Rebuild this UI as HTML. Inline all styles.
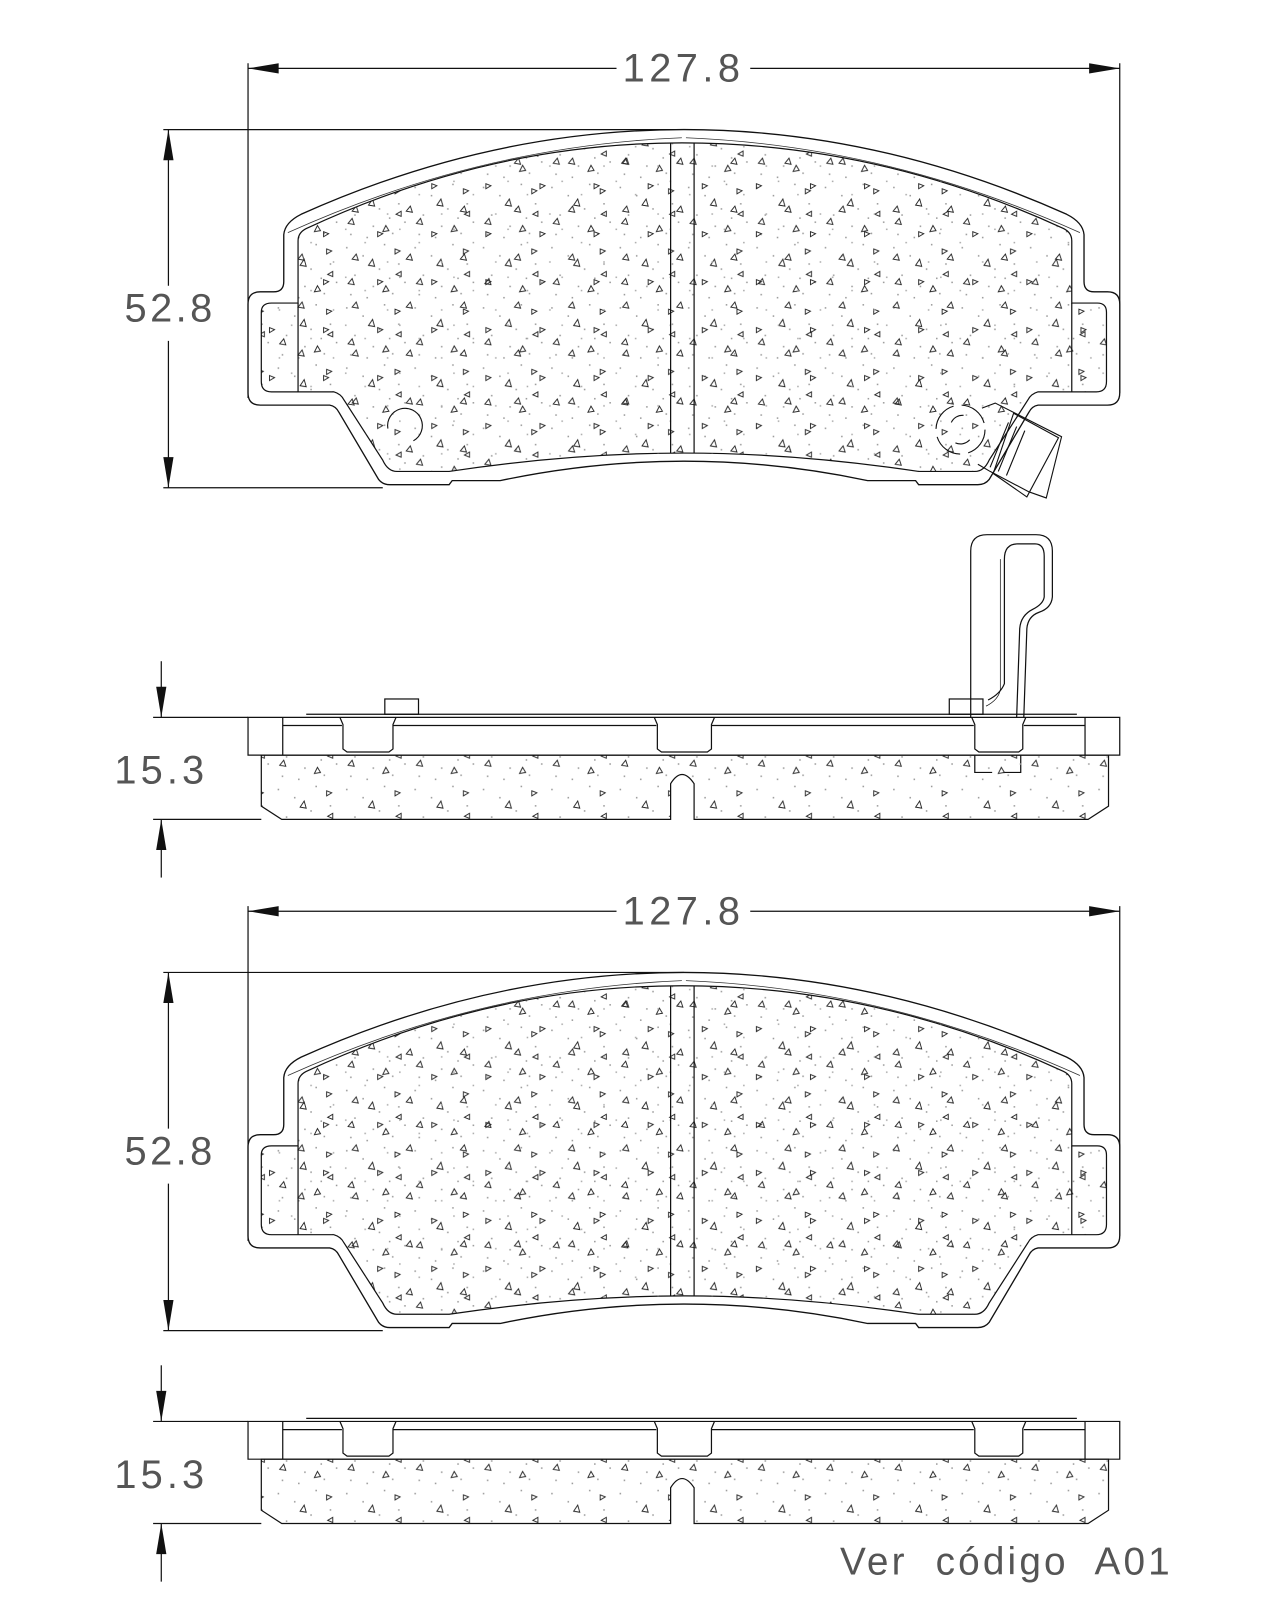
<!DOCTYPE html>
<html><head><meta charset="utf-8"><style>
html,body{margin:0;padding:0;background:#fff;}
svg{display:block;}
text{font-family:"Liberation Sans",sans-serif;fill:#555;}
</style></head><body>
<svg width="1280" height="1600" viewBox="0 0 1254 1568" preserveAspectRatio="none" xmlns="http://www.w3.org/2000/svg">
<defs>
<pattern id="sp" width="67" height="59" patternUnits="userSpaceOnUse">
<g fill="#999"><rect x="4" y="6" width="1.5" height="1.5"/><rect x="20" y="14" width="1.5" height="1.5"/><rect x="41" y="3" width="1.5" height="1.5"/><rect x="55" y="22" width="1.5" height="1.5"/><rect x="12" y="33" width="1.5" height="1.5"/><rect x="30" y="44" width="1.5" height="1.5"/><rect x="49" y="51" width="1.5" height="1.5"/><rect x="61" y="40" width="1.5" height="1.5"/><rect x="8" y="52" width="1.5" height="1.5"/><rect x="36" y="27" width="1.5" height="1.5"/><rect x="24" y="55" width="1.5" height="1.5"/><rect x="46" y="36" width="1.5" height="1.5"/></g>
<g fill="none" stroke="#222" stroke-width="0.9"><path d="M26 24 l4 -6 l2 7 z"/><path d="M52 8 l5 2 l-5 3 z"/><path d="M6 42 l4 -5 l2 6 z"/><path d="M40 50 l6 -1 l-3 -5 z"/><path d="M58 30 l-5 3 l5 2 z"/></g>
</pattern>
<pattern id="sp2" width="53" height="47" patternUnits="userSpaceOnUse" x="17" y="9">
<g fill="none" stroke="#222" stroke-width="0.9"><path d="M10 10 l4 -5 l2 6 z"/><path d="M35 30 l5 2 l-5 3 z"/></g>
<g fill="#aaa"><rect x="22" y="40" width="1.5" height="1.5"/><rect x="44" y="12" width="1.5" height="1.5"/><rect x="3" y="27" width="1.5" height="1.5"/></g>
</pattern>
<g id="pad">
<path d="M243,298 Q243,286 255,286 L268,286 Q278,286 278,276 L278,230 Q279,218 295,210 Q480,127 670,127 Q860,127 1045,210 Q1061,218 1062,230 L1062,276 Q1062,286 1072,286 L1085,286 Q1097,286 1097,298 L1097,385 Q1097,397 1085,397 L1017,397 Q1011,398 1008,404 L969,470 Q965,475 958,475 L900,475 L897,471 L850,471 Q760,452 670,452 Q580,452 490,471 L443,471 L440,475 L382,475 Q375,475 371,470 L332,404 Q329,398 323,397 L255,397 Q243,397 243,385 Z" fill="#fff" stroke="#111" stroke-width="1.3"/>
<path d="M292,236 Q292,228 300,224 Q480,140 668,140 Q860,140 1042,224 Q1050,228 1050,236 L1050,297 L1075,297 Q1084,297 1084,306 L1084,374 Q1084,384 1074,384 L1017,384 Q1010,386 1007,392 L969,451 Q964,462 955,462 L900,462 Q780,444 670,444 Q560,444 440,462 L389,462 Q380,462 375,451 L337,392 Q334,386 327,384 L266,384 Q256,384 256,374 L256,306 Q256,297 266,297 L292,297 Z" fill="url(#sp)" stroke="#111" stroke-width="1.2"/>
<path d="M292,236 Q292,228 300,224 Q480,140 668,140 Q860,140 1042,224 Q1050,228 1050,236 L1050,297 L1075,297 Q1084,297 1084,306 L1084,374 Q1084,384 1074,384 L1017,384 Q1010,386 1007,392 L969,451 Q964,462 955,462 L900,462 Q780,444 670,444 Q560,444 440,462 L389,462 Q380,462 375,451 L337,392 Q334,386 327,384 L266,384 Q256,384 256,374 L256,306 Q256,297 266,297 L292,297 Z" fill="url(#sp2)" stroke="none"/>
<path d="M292,297 L292,384 M1050,297 L1050,384 M657,140 L657,444 M680,140 L680,444" stroke="#111" stroke-width="1.2" fill="none"/>
<path d="M282,228 Q470,143 668,135 M1058,228 Q870,143 672,135" stroke="#333" stroke-width="0.8" fill="none"/>
</g>
</defs>

<!-- ===== TOP VIEW 1 ===== -->
<g stroke="#111" stroke-width="1.2" fill="none">
<line x1="243" y1="62" x2="243" y2="390"/>
<line x1="1097" y1="62" x2="1097" y2="385"/>
<line x1="243" y1="67" x2="604" y2="67"/><line x1="735" y1="67" x2="1097" y2="67"/>
<line x1="160" y1="127" x2="670" y2="127"/>
<line x1="160" y1="478" x2="375" y2="478"/>
<line x1="165" y1="127" x2="165" y2="280"/><line x1="165" y1="334" x2="165" y2="478"/>
</g>
<g fill="#111">
<path d="M243,67 l30,-5 l0,10 z"/><path d="M1097,67 l-30,-5 l0,10 z"/>
<path d="M165,127 l-5,30 l10,0 z"/><path d="M165,478 l-5,-30 l10,0 z"/>
</g>
<text x="610" y="80" font-size="39" textLength="115">127.8</text>
<text x="122" y="315" font-size="39" textLength="86">52.8</text>
<use href="#pad"/>
<g stroke="#111" stroke-width="1.1" fill="none">
<path d="M380,420 A17,17 0 1 1 405,432"/>
<circle cx="941" cy="421" r="24" stroke-dasharray="30 8"/>
<path d="M932,414 A12,12 0 0 1 944,407 M950,431 A12,12 0 0 1 936,434"/>
<path d="M962,400 L975,395 L1040,428 L1025,488 L1008,482 L970,462 L958,455"/>
<path d="M993,405 L1037,429 L1006,487 L973,464 Z"/>
<path d="M988,414 L970,458 M996,418 L978,462 M1004,422 L986,466"/>
</g>

<!-- ===== SIDE VIEW 1 ===== -->
<g stroke="#111" stroke-width="1.2" fill="none">
<path d="M951,703 L951,540 Q951,524 967,524 L1015,524 Q1031,524 1031,540 L1031,585 Q1030,596 1018,600 Q1007,604 1006,616 L1003,703"/>
<path d="M968,686 Q980,680 984,670 L984,548 Q984,533 997,533 L1014,533 Q1023,533 1023,545 L1023,585 Q1022,592 1012,597 Q1000,603 999,616 L996,703" />
<path d="M966,692 Q978,686 980,676 L980,548" stroke-width="0.7"/>
<rect x="377" y="685" width="33" height="15"/>
<rect x="930" y="685" width="33" height="15"/>
<path d="M300,700 L1055,700"/>
<path d="M243,703 L1097,703 L1097,740 L243,740 Z" fill="#fff"/>
<path d="M277,703 L277,740 M1063,703 L1063,740"/>
<path d="M277,711 L335,711 M385,711 L643,711 M697,711 L954,711 M1003,711 L1063,711"/>
<path d="M333,703 L336,710 L336,734 L340,737 L381,737 L385,734 L385,710 L388,703"/>
<path d="M641,703 L644,710 L644,734 L648,737 L693,737 L697,734 L697,710 L700,703"/>
<path d="M952,703 L955,710 L955,734 L959,737 L998,737 L1002,734 L1002,710 L1005,703"/>
<path d="M955,740 L955,757 L972,757 M983,757 L1000,757 L1000,740"/>
<path d="M256,740 L256,790 L276,803 L657,803 L657,768 Q668,750 680,768 L680,803 L1066,803 L1086,790 L1086,740 Z" fill="url(#sp)"/>
<line x1="150" y1="703" x2="243" y2="703"/>
<line x1="150" y1="803" x2="256" y2="803"/>
<line x1="158" y1="648" x2="158" y2="703"/>
<line x1="158" y1="803" x2="158" y2="860"/>
</g>
<g fill="#111"><path d="M158,703 l-5,-30 l10,0 z"/><path d="M158,803 l-5,30 l10,0 z"/></g>
<text x="112" y="768" font-size="39" textLength="88">15.3</text>

<!-- ===== TOP VIEW 2 ===== -->
<g transform="translate(0,826)">
<g stroke="#111" stroke-width="1.2" fill="none">
<line x1="243" y1="62" x2="243" y2="390"/>
<line x1="1097" y1="62" x2="1097" y2="385"/>
<line x1="243" y1="67" x2="604" y2="67"/><line x1="735" y1="67" x2="1097" y2="67"/>
<line x1="160" y1="127" x2="670" y2="127"/>
<line x1="160" y1="478" x2="375" y2="478"/>
<line x1="165" y1="127" x2="165" y2="280"/><line x1="165" y1="334" x2="165" y2="478"/>
</g>
<g fill="#111">
<path d="M243,67 l30,-5 l0,10 z"/><path d="M1097,67 l-30,-5 l0,10 z"/>
<path d="M165,127 l-5,30 l10,0 z"/><path d="M165,478 l-5,-30 l10,0 z"/>
</g>
<text x="610" y="80" font-size="39" textLength="115">127.8</text>
<text x="122" y="315" font-size="39" textLength="86">52.8</text>
<use href="#pad"/>
</g>

<!-- ===== SIDE VIEW 2 ===== -->
<g transform="translate(0,690)">
<g stroke="#111" stroke-width="1.2" fill="none">
<path d="M300,700 L1055,700"/>
<path d="M243,703 L1097,703 L1097,740 L243,740 Z" fill="#fff"/>
<path d="M277,703 L277,740 M1063,703 L1063,740"/>
<path d="M277,711 L335,711 M385,711 L643,711 M697,711 L954,711 M1003,711 L1063,711"/>
<path d="M333,703 L336,710 L336,734 L340,737 L381,737 L385,734 L385,710 L388,703"/>
<path d="M641,703 L644,710 L644,734 L648,737 L693,737 L697,734 L697,710 L700,703"/>
<path d="M952,703 L955,710 L955,734 L959,737 L998,737 L1002,734 L1002,710 L1005,703"/>
<path d="M256,740 L256,790 L276,803 L657,803 L657,768 Q668,750 680,768 L680,803 L1066,803 L1086,790 L1086,740 Z" fill="url(#sp)"/>
<line x1="150" y1="703" x2="243" y2="703"/>
<line x1="150" y1="803" x2="256" y2="803"/>
<line x1="158" y1="648" x2="158" y2="703"/>
<line x1="158" y1="803" x2="158" y2="860"/>
</g>
<g fill="#111"><path d="M158,703 l-5,-30 l10,0 z"/><path d="M158,803 l-5,30 l10,0 z"/></g>
<text x="112" y="768" font-size="39" textLength="88">15.3</text>
</g>

<text x="823" y="1543" font-size="38" textLength="323" xml:space="preserve">Ver  código  A01</text>
</svg>
</body></html>
